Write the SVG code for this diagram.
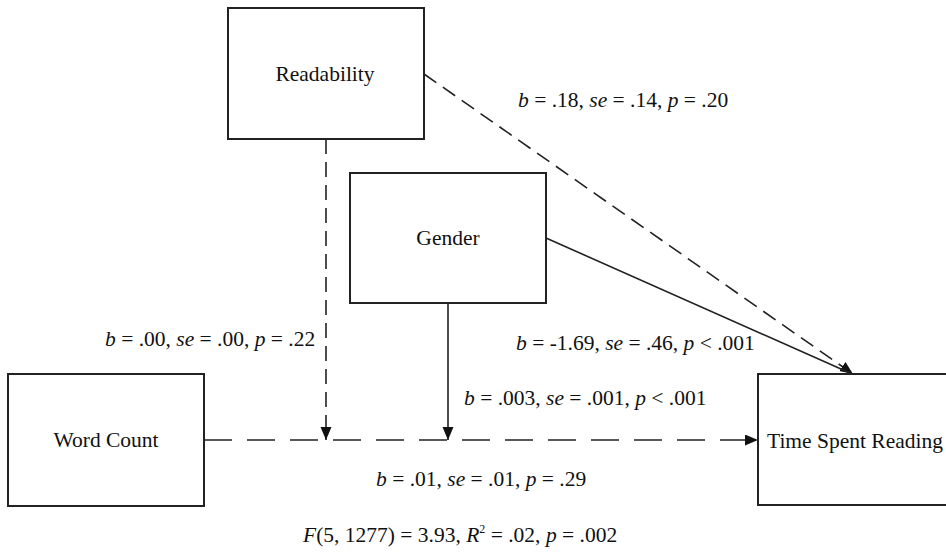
<svg xmlns="http://www.w3.org/2000/svg" width="946" height="553" viewBox="0 0 946 553">
<style>
.box{fill:#fff;stroke:#222;stroke-width:2}
.t{font-family:'Liberation Serif','DejaVu Serif',serif;font-size:21.5px;fill:#111}
.lbl{text-anchor:middle}
.ln{fill:none;stroke:#222;stroke-width:1.6}
.dv{stroke-dasharray:15 8}
.dh{stroke-dasharray:28 15}
</style>
<defs>
<marker id="ah" markerUnits="userSpaceOnUse" markerWidth="14" markerHeight="12" refX="13" refY="5.5" orient="auto">
<path d="M0,0 L13,5.5 L0,11 z" fill="#111"/>
</marker>
</defs>
<rect width="946" height="553" fill="#fff"/>
<g id="connectors">
<line class="ln dh" x1="204" y1="440" x2="758" y2="440" marker-end="url(#ah)"/>
<line class="ln dv" x1="326" y1="139" x2="326" y2="440" marker-end="url(#ah)"/>
<line class="ln" x1="448" y1="303" x2="448" y2="440" marker-end="url(#ah)"/>
<line class="ln dv" x1="424" y1="74" x2="853" y2="374" marker-end="url(#ah)"/>
<line class="ln" x1="546" y1="238" x2="850" y2="373"/>
</g>
<g id="node-readability">
<rect class="box" x="228" y="8" width="196" height="131"/>
<text class="t lbl" x="325" y="81">Readability</text>
</g>
<g id="node-gender">
<rect class="box" x="350" y="173" width="196" height="130"/>
<text class="t lbl" x="448" y="245">Gender</text>
</g>
<g id="node-wordcount">
<rect class="box" x="8" y="374" width="196" height="132"/>
<text class="t lbl" x="106" y="447">Word Count</text>
</g>
<g id="node-time">
<rect class="box" x="758" y="374" width="200" height="131"/>
<text class="t" x="767" y="448">Time Spent Reading</text>
</g>
<g id="labels">
<text class="t" x="518" y="107"><tspan font-style="italic">b</tspan> = .18, <tspan font-style="italic">se</tspan> = .14, <tspan font-style="italic">p</tspan> = .20</text>
<text class="t" x="105" y="346"><tspan font-style="italic">b</tspan> = .00, <tspan font-style="italic">se</tspan> = .00, <tspan font-style="italic">p</tspan> = .22</text>
<text class="t" x="516" y="350"><tspan font-style="italic">b</tspan> = -1.69, <tspan font-style="italic">se</tspan> = .46, <tspan font-style="italic">p</tspan> &lt; .001</text>
<text class="t" x="464" y="405"><tspan font-style="italic">b</tspan> = .003, <tspan font-style="italic">se</tspan> = .001, <tspan font-style="italic">p</tspan> &lt; .001</text>
<text class="t" x="376" y="486"><tspan font-style="italic">b</tspan> = .01, <tspan font-style="italic">se</tspan> = .01, <tspan font-style="italic">p</tspan> = .29</text>
<text class="t" x="303" y="542"><tspan font-style="italic">F</tspan>(5, 1277) = 3.93, <tspan font-style="italic">R</tspan><tspan font-size="12" dy="-9">2</tspan><tspan dy="9"> = .02, </tspan><tspan font-style="italic">p</tspan> = .002</text>
</g>
</svg>
